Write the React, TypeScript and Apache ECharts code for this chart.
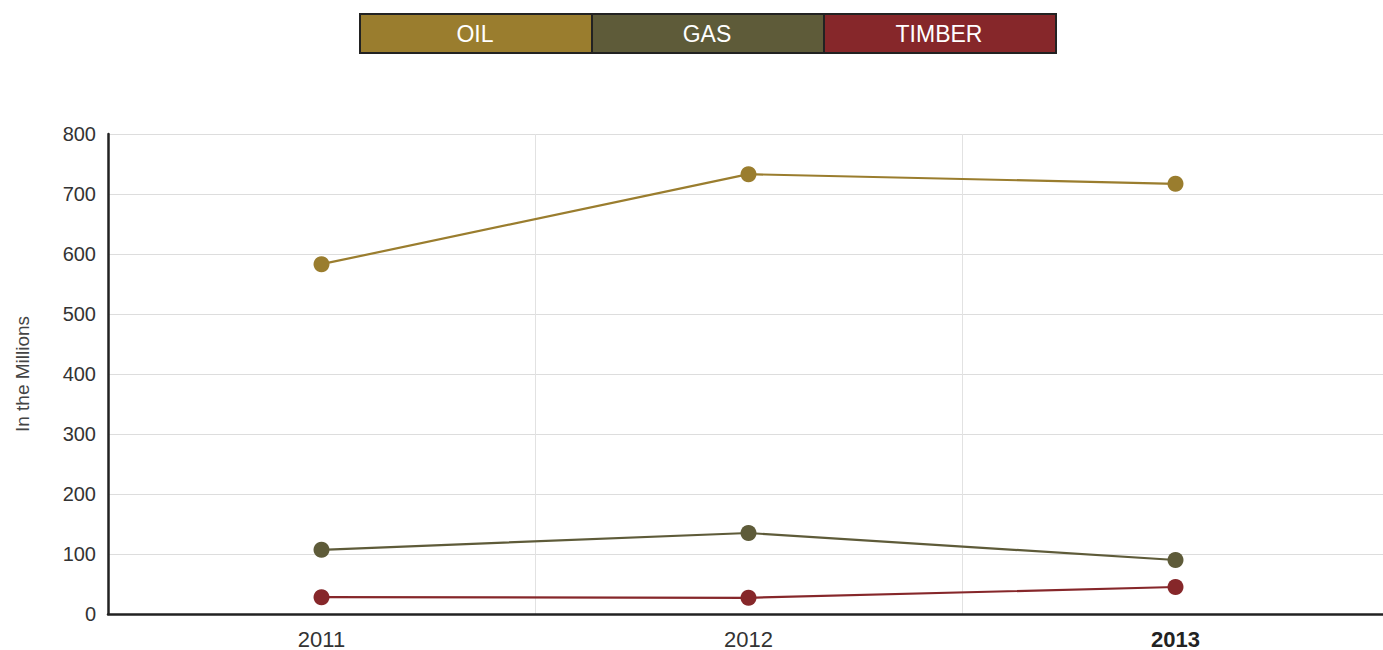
import React, { useEffect, useRef } from "react";
import * as echarts from "echarts";

const years = ["2011", "2012", "2013"];
const seriesNames = ["OIL", "GAS", "TIMBER"];
const oil = [583, 733, 717];
const gas = [107, 135, 90];
const timber = [28, 27, 45];
const colors = ["#9a7d2e", "#5e5b39", "#86272a"];
const yTicks = { min: 0, max: 800, interval: 100 };
const yAxisName = "In the Millions";

export default function App() {
  const ref = useRef<HTMLDivElement>(null);
  useEffect(() => {
    if (!ref.current) return;
    const chart = echarts.init(ref.current, null, { renderer: "svg" });
    const values = [oil, gas, timber];
    const legendLeft = 359;
    const cellW = 232;
    const legendGraphics: any[] = [];
    seriesNames.forEach((name, i) => {
      legendGraphics.push({
        type: "rect",
        left: legendLeft + i * cellW,
        top: 13,
        shape: { width: cellW, height: 39 },
        style: { fill: colors[i], stroke: "#222", lineWidth: 2 },
      });
    });
    seriesNames.forEach((name, i) => {
      legendGraphics.push({
        type: "text",
        x: legendLeft + i * cellW + cellW / 2,
        y: 34,
        style: {
          text: name,
          fill: "#fff",
          fontSize: 23,
          fontFamily: "Liberation Sans, Arial, sans-serif",
          align: "center",
          verticalAlign: "middle",
        },
      });
    });
    chart.setOption({
      animation: false,
      textStyle: { fontFamily: "Liberation Sans, Arial, sans-serif" },
      grid: { left: 108, top: 134, bottom: 36, right: -6, outerBoundsMode: "none" },
      graphic: legendGraphics,
      xAxis: {
        type: "category",
        data: years,
        boundaryGap: true,
        axisLine: { show: true, lineStyle: { color: "#222", width: 2.5 } },
        axisTick: { show: false },
        splitLine: { show: true, lineStyle: { color: "#e2e2e2", width: 1 } },
        axisLabel: {
          margin: 14,
          fontSize: 22,
          color: "#333",
          formatter: (v: string, idx: number) =>
            idx === years.length - 1 ? `{b|${v}}` : `{n|${v}}`,
          rich: {
            n: { fontSize: 22, color: "#333" },
            b: { fontSize: 22, color: "#222", fontWeight: "bold" },
          },
        },
      },
      yAxis: {
        type: "value",
        min: yTicks.min,
        max: yTicks.max,
        interval: yTicks.interval,
        name: yAxisName,
        nameLocation: "middle",
        nameGap: 76,
        nameTextStyle: { fontSize: 19, color: "#444" },
        axisLine: { show: true, lineStyle: { color: "#222", width: 2.5 } },
        axisTick: { show: false },
        splitLine: { show: true, lineStyle: { color: "#dddddd", width: 1 } },
        axisLabel: { margin: 12, fontSize: 20, color: "#333" },
      },
      series: seriesNames.map((name, i) => ({
        name,
        type: "line",
        data: values[i],
        symbol: "circle",
        symbolSize: 16,
        lineStyle: { color: colors[i], width: 2.2 },
        itemStyle: { color: colors[i] },
      })),
    });
    return () => chart.dispose();
  }, []);
  return (
    <div
      ref={ref}
      style={{ position: "fixed", left: 0, top: 0, width: 1383, height: 650, background: "#fff" }}
    />
  );
}
